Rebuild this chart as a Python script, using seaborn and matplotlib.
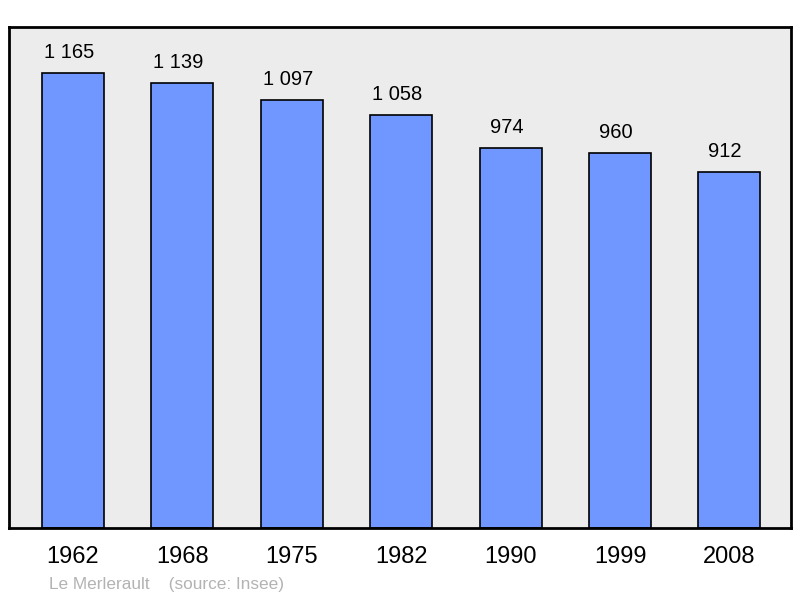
import pandas as pd
import seaborn as sns
import matplotlib.pyplot as plt

# Population data
years = ["1962", "1968", "1975", "1982", "1990", "1999", "2008"]
population = [1165, 1139, 1097, 1058, 974, 960, 912]
labels = ["1 165", "1 139", "1 097", "1 058", "974", "960", "912"]

df = pd.DataFrame({"year": years, "population": population})

sns.set_style("white")
plt.rcParams["font.family"] = ["Liberation Sans", "DejaVu Sans"]

fig = plt.figure(figsize=(8, 5.98), dpi=100)
ax = fig.add_axes([9 / 800, 1 - 528 / 598, 782 / 800, 501 / 598])
ax.set_facecolor("#ececec")

sns.barplot(data=df, x="year", y="population", color="#6f97ff",
            saturation=1, width=0.567, edgecolor="black", linewidth=1.2, ax=ax)

# Values above bars
for i, (v, lab) in enumerate(zip(population, labels)):
    ax.annotate(lab, (i, v), xytext=(-3, 8), textcoords="offset points",
                ha="center", va="bottom", fontsize=14.5, color="black")

ax.set_xlim(-0.585, 6.563)
ax.set_ylim(0, 1283)
ax.set_yticks([])
ax.set_xlabel("")
ax.set_ylabel("")
ax.tick_params(axis="x", length=0, labelsize=17, pad=13, labelcolor="black")
for s in ax.spines.values():
    s.set_visible(True)
    s.set_color("black")
    s.set_linewidth(2)

fig.text(49 / 800, 1 - 584 / 598, "Le Merlerault    (source: Insee)",
         fontsize=12.4, color="#b3b3b3", va="center")

plt.savefig("out.png", dpi=100)
